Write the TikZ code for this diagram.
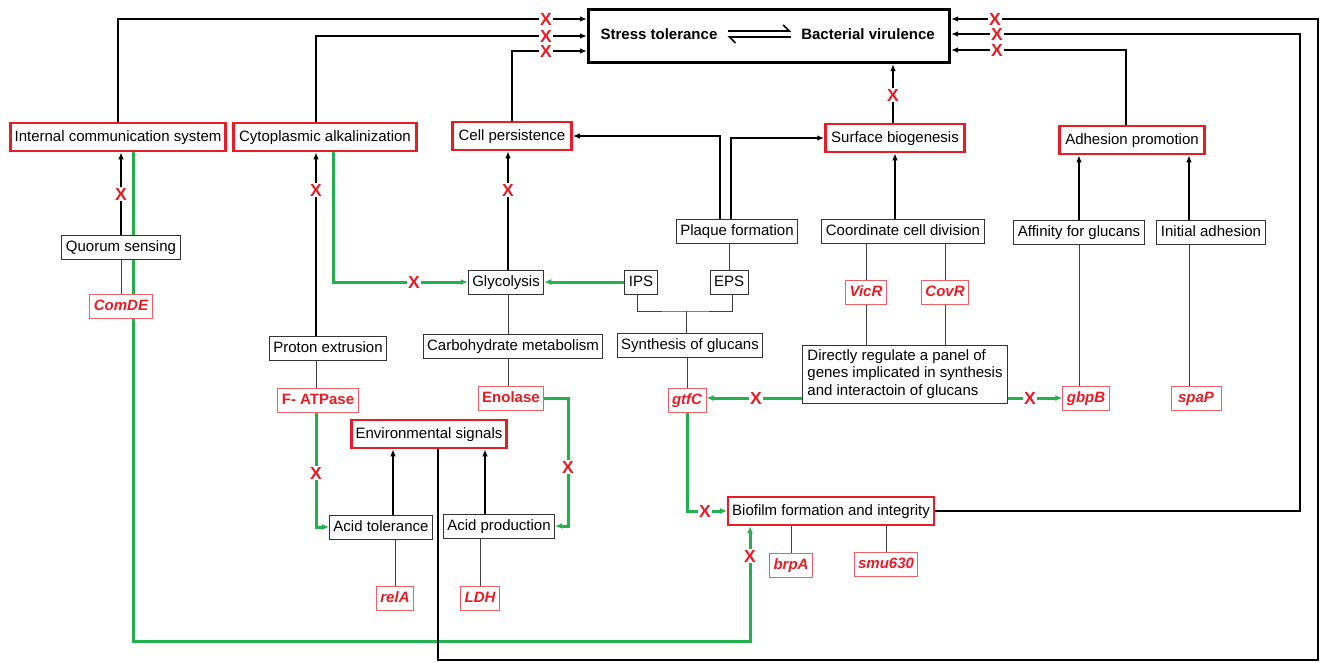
\documentclass[tikz,border=0pt]{standalone}
\usepackage{fontspec}
\setmainfont{Liberation Sans}
\usetikzlibrary{arrows.meta,backgrounds}
\definecolor{bred}{RGB}{232,28,36}
\definecolor{bgreen}{RGB}{34,177,76}

\tikzset{
  hubbox/.style={draw, line width=3pt, minimum width=361pt, minimum height=53pt},
  oneline/.style={text height=11pt, text depth=2pt},
  redbox/.style={oneline, draw=bred, line width=2.5pt, fill=white, inner xsep=4pt, inner ysep=0pt, minimum height=28pt},
  plainbox/.style={oneline, draw=black!80, line width=1pt, fill=white, inner xsep=4pt, inner ysep=0pt, minimum height=24pt},
  notebox/.style={draw=black!80, line width=1pt, fill=white, align=left, inner xsep=5pt, minimum height=58pt},
  genebox/.style={oneline, draw=bred!70, line width=1pt, fill=white, text=bred, inner xsep=4pt, inner ysep=0pt, minimum height=24pt, font=\fontsize{15}{17}\selectfont\bfseries\itshape},
  generom/.style={genebox, font=\fontsize{15}{17}\selectfont\bfseries},
  xmark/.style={text=bred, inner sep=0.5pt, font=\fontsize{17.5}{17.5}\selectfont\bfseries},
  link/.style={line width=1.6pt},
  linkto/.style={link, -{Latex[length=7pt,width=5.5pt]}},
  plainline/.style={line width=1pt, black!75},
  gline/.style={draw=bgreen, line width=3pt},
  gto/.style={gline, -{Latex[length=7pt,width=6pt]}},
}

\begin{document}
\begin{tikzpicture}[x=1pt, y=-1pt, every node/.style={font=\fontsize{15}{17.5}\selectfont}]
  \useasboundingbox (0,0) rectangle (1320,662);

  % Stress tolerance <-> virulence box
  \node[hubbox] (hub) at (769,36) {};
  \node[font=\fontsize{15}{17}\selectfont\bfseries, inner sep=2pt] (stress) at (659,34) {Stress tolerance};
  \node[font=\fontsize{15}{17}\selectfont\bfseries, inner sep=2pt] (virul) at (868,34) {Bacterial virulence};
  \draw[line width=1.6pt, -{Straight Barb[left,length=6pt]}] ([xshift=8pt,yshift=3pt]stress.east) -- ([xshift=-8pt,yshift=3pt]virul.west);
  \draw[line width=1.6pt, -{Straight Barb[left,length=6pt]}] ([xshift=-8pt,yshift=-3pt]virul.west) -- ([xshift=8pt,yshift=-3pt]stress.east);

  % Phenotypes
  \node[redbox] (comm) at (118,137) {Internal communication system};
  \node[redbox, minimum width=183pt] (alkal) at (325,137) {Cytoplasmic alkalinization};
  \node[redbox, minimum width=119pt] (persist) at (512,136) {Cell persistence};
  \node[redbox, minimum width=139pt] (surface) at (895,138) {Surface biogenesis};
  \node[redbox, minimum width=145pt] (adhes) at (1132,140) {Adhesion promotion};
  \node[redbox] (envsig) at (429,434) {Environmental signals};
  \node[redbox] (biofilm) at (831,511) {Biofilm formation and integrity};

  % Processes
  \node[plainbox] (quorum) at (121,247) {Quorum sensing};
  \node[plainbox] (proton) at (328,348) {Proton extrusion};
  \node[plainbox] (glyco) at (506,282) {Glycolysis};
  \node[plainbox] (carbo) at (513,346) {Carbohydrate metabolism};
  \node[plainbox] (plaque) at (737,231) {Plaque formation};
  \node[plainbox] (ips) at (641,282) {IPS};
  \node[plainbox] (eps) at (729,282) {EPS};
  \node[plainbox] (synth) at (690,345) {Synthesis of glucans};
  \node[plainbox] (coord) at (903,231) {Coordinate cell division};
  \node[plainbox] (affin) at (1079,232) {Affinity for glucans};
  \node[plainbox] (initad) at (1211,232) {Initial adhesion};
  \node[notebox] (direct) at (905,374)
    {Directly regulate a panel of\\genes implicated in synthesis\\and interactoin of glucans};
  \node[plainbox] (acidtol) at (381,527) {Acid tolerance};
  \node[plainbox] (acidprod) at (499,526) {Acid production};

  % Genes
  \node[genebox] (comde) at (121,306) {ComDE};
  \node[generom] (fatpase) at (318,400) {F- ATPase};
  \node[generom] (enolase) at (511,398) {Enolase};
  \node[genebox] (gtfc) at (687,400) {gtfC};
  \node[genebox] (vicr) at (866,292) {VicR};
  \node[genebox] (covr) at (945,292) {CovR};
  \node[genebox] (gbpb) at (1086,398) {gbpB};
  \node[genebox, minimum width=50pt] (spap) at (1196,398) {spaP};
  \node[genebox] (rela) at (395,598) {relA};
  \node[genebox] (ldh) at (480,598) {LDH};
  \node[genebox] (brpa) at (791,565) {brpA};
  \node[genebox] (smu) at (886,564) {smu630};

  % Blocked steps
  \node[xmark] (xcomm) at (546,19) {X};
  \node[xmark] (xalkal) at (546,36) {X};
  \node[xmark] (xpersist) at (546,51) {X};
  \node[xmark] (xenv) at (995,19) {X};
  \node[xmark] (xbiofilm) at (997,34) {X};
  \node[xmark] (xadhes) at (997,50) {X};
  \node[xmark] (xsurface) at (893,95) {X};
  \node[xmark] (xquorum) at (121,194) {X};
  \node[xmark] (xproton) at (316,190) {X};
  \node[xmark] (xglyco) at (508,190) {X};
  \node[xmark] (xalkgly) at (414,282) {X};
  \node[xmark] (xfatp) at (316,473) {X};
  \node[xmark] (xenol) at (568,467) {X};
  \node[xmark] (xgtfc) at (756,398) {X};
  \node[xmark] (xgbpb) at (1030,398) {X};
  \node[xmark] (xgtfbio) at (705,511) {X};
  \node[xmark] (xcombio) at (750,556) {X};

  \coordinate (rimlow) at (1318,660);
  \coordinate (rimmid) at (1300,511);
  \coordinate (gjoin) at (686,311);
  \coordinate (glow) at (750,641);

  \begin{scope}[on background layer]
    % Green links
    \draw[gline] ([xshift=15pt]comm.south) |- (glow) -- (xcombio);
    \draw[gto] (xcombio) -- (xcombio |- biofilm.south);
    \draw[gline] ([xshift=8pt]alkal.south) |- (xalkgly);
    \draw[gto] (xalkgly) -- (glyco.west);
    \draw[gto] (ips.west) -- (glyco.east);
    \draw[gline] (xfatp |- fatpase.south) -- (xfatp);
    \draw[gto] (xfatp) |- (acidtol.west);
    \draw[gline] (enolase.east) -| (xenol);
    \draw[gto] (xenol) |- (acidprod.east);
    \draw[gline] (direct.west |- xgtfc) -- (xgtfc);
    \draw[gto] (xgtfc) -- (xgtfc -| gtfc.east);
    \draw[gline] (direct.east |- xgbpb) -- (xgbpb);
    \draw[gto] (xgbpb) -- (xgbpb -| gbpb.west);
    \draw[gline] (gtfc.south) |- (xgtfbio);
    \draw[gto] (xgtfbio) -- (biofilm.west);

    % Into the hub
    \draw[link] (comm.north) |- (xcomm);
    \draw[linkto] (xcomm) -- (xcomm -| hub.west);
    \draw[link] ([xshift=-9pt]alkal.north) |- (xalkal);
    \draw[linkto] (xalkal) -- (xalkal -| hub.west);
    \draw[link] (persist.north) |- (xpersist);
    \draw[linkto] (xpersist) -- (xpersist -| hub.west);
    \draw[link] ([xshift=9pt]envsig.south) |- (rimlow) |- (xenv);
    \draw[linkto] (xenv) -- (xenv -| hub.east);
    \draw[link] (biofilm.east) -- (rimmid) |- (xbiofilm);
    \draw[linkto] (xbiofilm) -- (xbiofilm -| hub.east);
    \draw[link] ([xshift=-6pt]adhes.north) |- (xadhes);
    \draw[linkto] (xadhes) -- (xadhes -| hub.east);
    \draw[link] (surface.north -| xsurface) -- (xsurface);
    \draw[linkto] (xsurface) -- (xsurface |- hub.south);

    % Into the phenotypes
    \draw[link] (quorum) -- (xquorum);
    \draw[linkto] (xquorum) -- (xquorum |- comm.south);
    \draw[link] (xproton |- proton.north) -- (xproton);
    \draw[linkto] (xproton) -- (xproton |- alkal.south);
    \draw[link] (xglyco |- glyco.north) -- (xglyco);
    \draw[linkto] (xglyco) -- (xglyco |- persist.south);
    \draw[linkto] ([xshift=-17pt]plaque.north) |- (persist.east);
    \draw[linkto] ([xshift=-6pt]plaque.north) |- (surface.west);
    \draw[linkto] (coord.north -| surface) -- (surface.south);
    \draw[linkto] (affin.north) -- (affin.north |- adhes.south);
    \draw[linkto] ([xshift=-22pt]initad.north) -- ([xshift=-22pt]initad.north |- adhes.south);
    \draw[linkto] ([xshift=12pt]acidtol.north) -- ([xshift=12pt]acidtol.north |- envsig.south);
    \draw[linkto] ([xshift=-14pt]acidprod.north) -- ([xshift=-14pt]acidprod.north |- envsig.south);

    % Plain links
    \draw[plainline] (quorum) -- (comde);
    \draw[plainline] (xproton |- proton.south) -- (xproton |- fatpase.north);
    \draw[plainline] (xglyco |- glyco.south) -- (xglyco |- carbo.north);
    \draw[plainline] (xglyco |- carbo.south) -- (xglyco |- enolase.north);
    \draw[plainline] (eps.north) -- (eps.north |- plaque.south);
    \draw[plainline] ([xshift=-4pt]ips.south) |- (gjoin) -| ([xshift=3pt]eps.south);
    \draw[plainline] (gjoin) -- (gjoin |- synth.north);
    \draw[plainline] (gtfc.north) -- (gtfc.north |- synth.south);
    \draw[plainline] (vicr.north) -- (vicr.north |- coord.south);
    \draw[plainline] (vicr.south) -- (vicr.south |- direct.north);
    \draw[plainline] (covr.north) -- (covr.north |- coord.south);
    \draw[plainline] (covr.south) -- (covr.south |- direct.north);
    \draw[plainline] (affin.south) -- (affin.south |- gbpb.north);
    \draw[plainline] ([xshift=-22pt]initad.south) -- ([xshift=-22pt]initad.south |- spap.north);
    \draw[plainline] (rela.north) -- (rela.north |- acidtol.south);
    \draw[plainline] (ldh.north) -- (ldh.north |- acidprod.south);
    \draw[plainline] (brpa.north) -- (brpa.north |- biofilm.south);
    \draw[plainline] (smu.north) -- (smu.north |- biofilm.south);
  \end{scope}

\end{tikzpicture}
\end{document}
